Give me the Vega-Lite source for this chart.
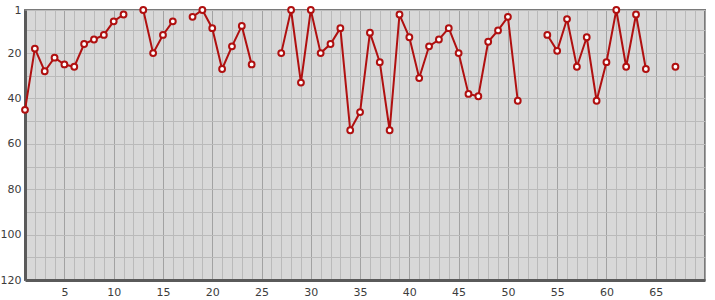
{
  "$schema": "https://vega.github.io/schema/vega-lite/v6.json",
  "width": 680,
  "height": 270,
  "autosize": {"type": "none"},
  "padding": {"left": 25, "top": 10, "right": 10, "bottom": 20},
  "background": "white",
  "config": {
    "view": {"fill": "#d8d8d8", "stroke": "#7a7a7a", "strokeWidth": 2},
    "axis": {"labelFont": "DejaVu Sans", "labelFontSize": 11, "labelColor": "#3c3c3c", "ticks": false, "title": null, "gridOpacity": 1}
  },
  "data": {"values": [
    {"x": 1, "y": 45}, {"x": 2, "y": 18}, {"x": 3, "y": 28}, {"x": 4, "y": 22}, {"x": 5, "y": 25},
    {"x": 6, "y": 26}, {"x": 7, "y": 16}, {"x": 8, "y": 14}, {"x": 9, "y": 12}, {"x": 10, "y": 6},
    {"x": 11, "y": 3}, {"x": 12, "y": null}, {"x": 13, "y": 1}, {"x": 14, "y": 20}, {"x": 15, "y": 12},
    {"x": 16, "y": 6}, {"x": 17, "y": null}, {"x": 18, "y": 4}, {"x": 19, "y": 1}, {"x": 20, "y": 9},
    {"x": 21, "y": 27}, {"x": 22, "y": 17}, {"x": 23, "y": 8}, {"x": 24, "y": 25}, {"x": 25, "y": null},
    {"x": 26, "y": null}, {"x": 27, "y": 20}, {"x": 28, "y": 1}, {"x": 29, "y": 33}, {"x": 30, "y": 1},
    {"x": 31, "y": 20}, {"x": 32, "y": 16}, {"x": 33, "y": 9}, {"x": 34, "y": 54}, {"x": 35, "y": 46},
    {"x": 36, "y": 11}, {"x": 37, "y": 24}, {"x": 38, "y": 54}, {"x": 39, "y": 3}, {"x": 40, "y": 13},
    {"x": 41, "y": 31}, {"x": 42, "y": 17}, {"x": 43, "y": 14}, {"x": 44, "y": 9}, {"x": 45, "y": 20},
    {"x": 46, "y": 38}, {"x": 47, "y": 39}, {"x": 48, "y": 15}, {"x": 49, "y": 10}, {"x": 50, "y": 4},
    {"x": 51, "y": 41}, {"x": 52, "y": null}, {"x": 53, "y": null}, {"x": 54, "y": 12}, {"x": 55, "y": 19},
    {"x": 56, "y": 5}, {"x": 57, "y": 26}, {"x": 58, "y": 13}, {"x": 59, "y": 41}, {"x": 60, "y": 24},
    {"x": 61, "y": 1}, {"x": 62, "y": 26}, {"x": 63, "y": 3}, {"x": 64, "y": 27}, {"x": 65, "y": null},
    {"x": 66, "y": null}, {"x": 67, "y": 26}
  ]},
  "encoding": {
    "x": {
      "field": "x", "type": "quantitative",
      "scale": {"domain": [1, 70], "nice": false, "zero": false},
      "axis": {
        "values": [1,2,3,4,5,6,7,8,9,10,11,12,13,14,15,16,17,18,19,20,21,22,23,24,25,26,27,28,29,30,31,32,33,34,35,36,37,38,39,40,41,42,43,44,45,46,47,48,49,50,51,52,53,54,55,56,57,58,59,60,61,62,63,64,65,66,67,68,69,70],
        "labelExpr": "datum.value % 5 === 0 && datum.value < 70 ? datum.label : ''",
        "labelPadding": 6,
        "grid": true,
        "gridColor": {"condition": {"test": "datum.value % 5 === 0", "value": "#a2a2a2"}, "value": "#bababa"},
        "gridWidth": 1,
        "domainColor": "#5a5a5a",
        "domainWidth": 3
      }
    },
    "y": {
      "field": "y", "type": "quantitative",
      "scale": {"domain": [1, 120], "reverse": true, "nice": false, "zero": false},
      "axis": {
        "values": [1, 10, 20, 30, 40, 50, 60, 70, 80, 90, 100, 110, 120],
        "labelExpr": "datum.value === 1 || datum.value % 20 === 0 ? datum.label : ''",
        "labelPadding": 4,
        "grid": true,
        "gridColor": "#bababa",
        "gridWidth": 1,
        "domainColor": "#5a5a5a",
        "domainWidth": 3
      }
    }
  },
  "layer": [
    {"mark": {"type": "line", "color": "#b01010", "strokeWidth": 2, "invalid": "break-paths-filter-domains"}},
    {"mark": {"type": "point", "shape": "circle", "filled": true, "fill": "white", "stroke": "#b01010", "strokeWidth": 2, "size": 34, "opacity": 1}}
  ]
}
